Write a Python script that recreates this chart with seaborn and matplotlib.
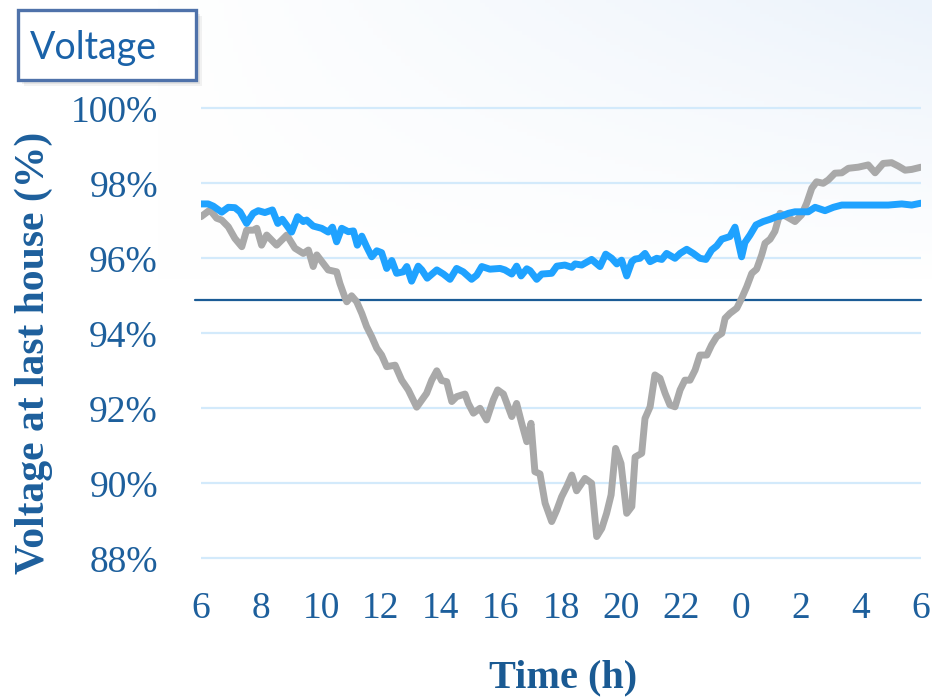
import numpy as np
import pandas as pd
import seaborn as sns
import matplotlib.pyplot as plt
from matplotlib.patches import Rectangle

# ---- data ----
blue_t = [6.0, 6.24, 6.41, 6.69, 6.91, 7.13, 7.3, 7.52, 7.74, 7.91, 8.13, 8.38, 8.56, 8.71,
          9.02, 9.22, 9.41, 9.52, 9.74, 10.02, 10.24, 10.38, 10.52, 10.69, 10.91, 11.08, 11.21,
          11.36, 11.52, 11.69, 11.86, 12.02, 12.19, 12.36, 12.52, 12.74, 12.86, 13.02, 13.24,
          13.36, 13.54, 13.86, 14.08, 14.3, 14.52, 14.74, 15.02, 15.19, 15.36, 15.63, 15.97,
          16.13, 16.36, 16.52, 16.67, 16.86, 16.97, 17.19, 17.36, 17.69, 17.86, 18.13, 18.36,
          18.47, 18.69, 19.02, 19.3, 19.49, 19.69, 19.86, 20.02, 20.19, 20.36, 20.47, 20.63,
          20.8, 20.97, 21.19, 21.36, 21.52, 21.8, 21.97, 22.19, 22.41, 22.63, 22.83, 23.02,
          23.19, 23.36, 23.63, 23.8, 24.02, 24.13, 24.3, 24.5, 24.74, 24.97, 25.19, 25.36,
          25.58, 25.8, 26.24, 26.47, 26.8, 27.08, 27.36, 28.02, 28.91, 29.36, 29.69, 30.0]
blue_v = [97.45, 97.45, 97.39, 97.23, 97.36, 97.35, 97.24, 96.93, 97.2, 97.27, 97.22, 97.29,
          96.93, 97.04, 96.70, 97.11, 96.98, 97.02, 96.86, 96.80, 96.70, 96.83, 96.44, 96.80,
          96.71, 96.73, 96.35, 96.59, 96.31, 96.04, 96.20, 96.15, 95.73, 95.94, 95.60, 95.64,
          95.78, 95.39, 95.79, 95.69, 95.47, 95.69, 95.58, 95.44, 95.73, 95.64, 95.44, 95.55,
          95.78, 95.71, 95.73, 95.69, 95.58, 95.79, 95.53, 95.72, 95.67, 95.44, 95.58, 95.60,
          95.79, 95.82, 95.76, 95.85, 95.82, 95.97, 95.78, 96.11, 96.0, 95.85, 95.95, 95.53,
          95.91, 95.98, 96.0, 96.13, 95.91, 96.0, 95.97, 96.13, 96.0, 96.13, 96.24, 96.13,
          96.0, 95.97, 96.22, 96.33, 96.51, 96.58, 96.83, 96.04, 96.42, 96.62, 96.89, 96.98,
          97.04, 97.11, 97.13, 97.2, 97.24, 97.24, 97.36, 97.27, 97.36, 97.42, 97.42, 97.42,
          97.45, 97.42, 97.47]

gray_t = [6.0, 6.3, 6.52, 6.69, 6.91, 7.13, 7.36, 7.52, 7.74, 7.86, 8.02, 8.19, 8.52, 8.86,
          9.13, 9.41, 9.58, 9.74, 9.86, 10.24, 10.52, 10.63, 10.8, 10.86, 11.02, 11.19, 11.36,
          11.52, 11.69, 11.86, 12.02, 12.19, 12.47, 12.69, 12.91, 13.02, 13.19, 13.36, 13.52,
          13.69, 13.86, 14.02, 14.19, 14.36, 14.52, 14.8, 14.91, 15.08, 15.3, 15.52, 15.74,
          15.89, 16.08, 16.24, 16.36, 16.52, 16.69, 16.86, 17.0, 17.13, 17.3, 17.47, 17.69,
          17.86, 18.02, 18.19, 18.36, 18.52, 18.8, 19.02, 19.19, 19.36, 19.52, 19.67, 19.82,
          20.0, 20.19, 20.36, 20.47, 20.69, 20.8, 20.97, 21.13, 21.3, 21.47, 21.63, 21.8,
          21.97, 22.13, 22.3, 22.47, 22.63, 22.86, 23.02, 23.19, 23.36, 23.47, 23.63, 23.86,
          24.02, 24.19, 24.36, 24.52, 24.69, 24.8, 24.97, 25.13, 25.3, 25.52, 25.8, 26.02,
          26.19, 26.36, 26.52, 26.74, 26.91, 27.13, 27.36, 27.58, 27.91, 28.24, 28.47, 28.74,
          29.02, 29.24, 29.47, 29.69, 30.0]
gray_v = [97.11, 97.29, 97.07, 97.02, 96.84, 96.53, 96.31, 96.75, 96.75, 96.80, 96.35, 96.62,
          96.35, 96.62, 96.27, 96.13, 96.22, 95.78, 96.09, 95.69, 95.64, 95.33, 94.95, 94.84,
          95.0, 94.84, 94.53, 94.18, 93.91, 93.60, 93.42, 93.11, 93.15, 92.75, 92.49, 92.31,
          92.03, 92.22, 92.40, 92.75, 93.0, 92.74, 92.71, 92.18, 92.31, 92.38, 92.13, 91.87,
          92.0, 91.69, 92.22, 92.49, 92.38, 92.04, 91.78, 92.13, 91.60, 91.11, 91.60, 90.31,
          90.25, 89.47, 88.98, 89.29, 89.64, 89.91, 90.22, 89.80, 90.13, 90.0, 88.58, 88.8,
          89.2, 89.69, 90.93, 90.53, 89.2, 89.38, 90.7, 90.8, 91.73, 92.04, 92.89, 92.8, 92.4,
          92.09, 92.04, 92.49, 92.75, 92.75, 93.02, 93.42, 93.42, 93.69, 93.91, 94.0, 94.40,
          94.53, 94.67, 94.93, 95.24, 95.6, 95.71, 96.09, 96.4, 96.51, 96.72, 97.2, 97.11,
          96.98, 97.16, 97.47, 97.87, 98.04, 98.0, 98.09, 98.27, 98.28, 98.4, 98.43, 98.49,
          98.28, 98.53, 98.55, 98.46, 98.35, 98.37, 98.43]

limit_v = 94.89
x_ticks = [6, 8, 10, 12, 14, 16, 18, 20, 22, 24, 26, 28, 30]
x_labels = ["6", "8", "10", "12", "14", "16", "18", "20", "22", "0", "2", "4", "6"]
y_ticks = [88, 90, 92, 94, 96, 98, 100]
y_labels = ["88%", "90%", "92%", "94%", "96%", "98%", "100%"]

blue_df = pd.DataFrame({"t": blue_t, "v": blue_v})
gray_df = pd.DataFrame({"t": gray_t, "v": gray_v})

sns.set_theme(style="white")
plt.rcParams["font.family"] = ["Liberation Serif", "DejaVu Serif"]

TXT = "#1d5f9c"
W, H = 932, 697
fig = plt.figure(figsize=(W / 100, H / 100), dpi=100)

# soft bluish wash in the upper right, like the slide background
bg = fig.add_axes([0, 0, 1, 1], zorder=-10)
gx, gy = np.meshgrid(np.linspace(0, 1, 200), np.linspace(1, 0, 200))
w = np.clip(gx * 1.2 - 0.2, 0, 1) * np.clip(1 - (1 - gy) / 0.4, 0, 1)
base = np.array([1.0, 1.0, 1.0])
tint = np.array([236, 243, 251]) / 255
img = base[None, None, :] * (1 - w[..., None]) + tint[None, None, :] * w[..., None]
bg.imshow(img, extent=[0, 1, 0, 1], aspect="auto")
bg.axis("off")

# main plot area
y0, y1 = 87.9, 100.1
px_per = 37.5
top_px = 108.3 - (y1 - 100) * px_per
bot_px = 558.3 + (88 - y0) * px_per
ax = fig.add_axes([201 / W, 1 - bot_px / H, 720 / W, (bot_px - top_px) / H])
ax.set_facecolor("none")

for yv in y_ticks:
    ax.axhline(yv, color="#d3eafb", lw=1.6, zorder=0)

ax.plot([5.8, 30], [limit_v, limit_v], color="#1b5c96", lw=1.6, clip_on=False, zorder=1)

sns.lineplot(data=gray_df, x="t", y="v", ax=ax, color="#a9a9a9",
             estimator=None, sort=False, zorder=2)
sns.lineplot(data=blue_df, x="t", y="v", ax=ax, color="#1fa2ff",
             estimator=None, sort=False, zorder=3)
for ln in ax.lines[-2:]:
    ln.set_linewidth(5.0)
    ln.set_solid_joinstyle("round")
    ln.set_solid_capstyle("round")

ax.set_xlim(6, 30)
ax.set_ylim(y0, y1)
ax.set_xticks(x_ticks)
ax.set_xticklabels(x_labels)
ax.set_yticks(y_ticks)
ax.set_yticklabels(y_labels)
ax.tick_params(axis="x", length=0, pad=21, labelsize=27, labelcolor=TXT)
ax.tick_params(axis="y", length=0, pad=31, labelsize=27, labelcolor=TXT)
ax.set_xlabel("")
ax.set_ylabel("")
for s in ax.spines.values():
    s.set_visible(False)

fig.text(563 / W, 1 - 678 / H, "Time (h)", ha="center", va="center",
         fontsize=29, fontweight="bold", color="#1a5a93")
fig.text(34 / W, 1 - 353 / H, "Voltage at last house (%)", ha="center", va="center",
         rotation=90, fontsize=30, fontweight="bold", color=TXT)

# "Voltage" title box with a soft shadow
bx, by, bw, bh = 18 / W, 1 - 80 / H, 178 / W, 70 / H
for k, a in [(6, 0.06), (4, 0.08), (2, 0.1)]:
    fig.patches.append(Rectangle((bx + k / W, by - k / H), bw, bh, transform=fig.transFigure,
                                 facecolor="#303030", edgecolor="none", alpha=a, zorder=5))
fig.patches.append(Rectangle((bx, by), bw, bh, transform=fig.transFigure,
                             facecolor="white", edgecolor="#4f72aa", lw=2.4, zorder=6))
fig.text(30 / W, 1 - 48 / H, "Voltage", ha="left", va="center", fontsize=27,
         color="#1a62a8", family=["Lato", "DejaVu Sans"], zorder=7)

fig.savefig("out.png", dpi=100)
